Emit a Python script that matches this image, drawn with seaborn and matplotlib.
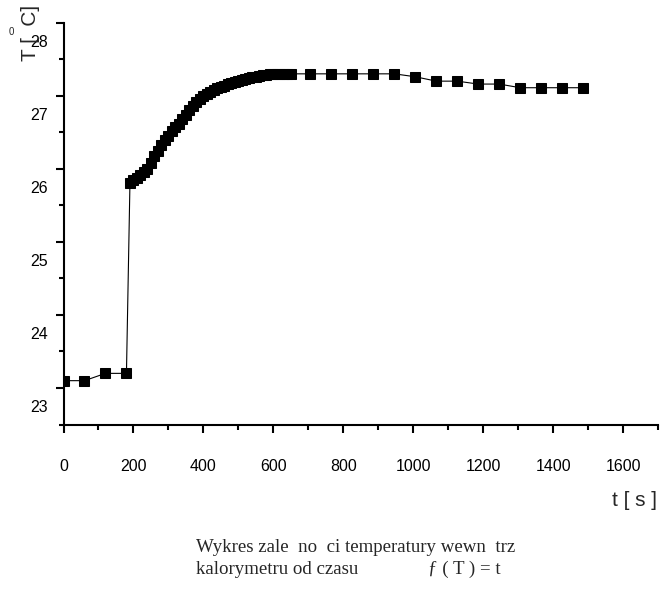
import numpy as np
import pandas as pd
import matplotlib
matplotlib.use("Agg")
import matplotlib.pyplot as plt
import matplotlib.transforms as mtransforms
from matplotlib.ticker import MultipleLocator
import seaborn as sns

# ---- data ----
t_start = [0, 60, 120, 180]
T_start = [23.10, 23.10, 23.20, 23.20]

t_dense = [190, 200, 210, 220, 230, 240, 250, 260, 270, 280, 290, 300, 310, 320,
           330, 340, 350, 360, 370, 380, 390, 400, 410, 420, 430, 440, 450, 460,
           470, 480, 490, 500, 510, 520, 530, 540, 550, 560, 570, 580, 590, 600,
           610, 620, 630, 640, 650]
T_dense = [25.80, 25.85, 25.88, 25.91, 25.95, 26.00, 26.08, 26.17, 26.25, 26.32,
           26.39, 26.45, 26.52, 26.57, 26.62, 26.68, 26.74, 26.80, 26.86, 26.91,
           26.95, 26.99, 27.02, 27.05, 27.08, 27.10, 27.12, 27.14, 27.16, 27.17,
           27.19, 27.20, 27.22, 27.23, 27.24, 27.25, 27.26, 27.27, 27.28, 27.29,
           27.30, 27.30, 27.30, 27.30, 27.30, 27.30, 27.30]

t_late = [706, 766, 826, 886, 946, 1006, 1066, 1126, 1186, 1246, 1306, 1366, 1426, 1486]
T_late = [27.30, 27.30, 27.30, 27.30, 27.30, 27.26, 27.20, 27.20, 27.16, 27.16,
          27.11, 27.11, 27.11, 27.11]

x_ticks = [0, 200, 400, 600, 800, 1000, 1200, 1400, 1600]
y_ticks = [23, 24, 25, 26, 27, 28]

x_label = "t [ s ]"
y_label = "T [  C]"
caption1 = "Wykres zale  no  ci temperatury wewn  trz"
caption2 = "kalorymetru od czasu"
caption3 = "\u0192 ( T ) = t"

df = pd.DataFrame({"t": t_start + t_dense + t_late,
                   "T": T_start + T_dense + T_late})

sns.set_style("white")
plt.rcParams["font.family"] = ["Liberation Sans", "DejaVu Sans"]

fig = plt.figure(figsize=(6.6, 5.9), dpi=100)
ax = fig.add_axes([63.5 / 660, 1 - 424.5 / 590, (658 - 63.5) / 660, (424.5 - 22.7) / 590])

sns.lineplot(data=df, x="t", y="T", ax=ax, color="black", linewidth=0.8,
             marker="s", markersize=7.6, markeredgecolor="black",
             markerfacecolor="black", sort=False, estimator=None)

ax.set_xlim(0, 1700)
ax.set_ylim(22.5, 28)
ax.set_xticks(x_ticks)
ax.set_xticklabels([str(v) for v in x_ticks])
ax.set_yticks(y_ticks)
ax.set_yticklabels([str(v) for v in y_ticks])
ax.xaxis.set_minor_locator(MultipleLocator(100))
ax.yaxis.set_minor_locator(MultipleLocator(0.5))

for s in ["top", "right"]:
    ax.spines[s].set_visible(False)
for s in ["left", "bottom"]:
    ax.spines[s].set_linewidth(1.5)
    ax.spines[s].set_color("black")

ax.tick_params(axis="both", which="major", direction="out", length=6, width=1.5,
               color="black", labelsize=11.5, labelcolor="black")
ax.tick_params(axis="both", which="minor", direction="out", length=3.5, width=1.5,
               color="black")
ax.tick_params(axis="x", which="major", pad=19)
ax.tick_params(axis="y", which="major", pad=5)
ax.tick_params(left=True, bottom=True, which="both")

# y tick labels sit below their ticks in the reference
off = mtransforms.ScaledTranslation(0, -0.18, fig.dpi_scale_trans)
for lab in ax.get_yticklabels():
    lab.set_transform(lab.get_transform() + off)

ax.set_xlabel("")
ax.set_ylabel("")

fig.text(657 / 660, 1 - 500 / 590, x_label, ha="right", va="center", fontsize=15)
fig.text(30 / 660, 1 - 33 / 590, y_label, ha="center", va="center", fontsize=15,
         rotation=90)
fig.text(11 / 660, 1 - 32 / 590, "0", ha="center", va="center", fontsize=7)

serif = ["Liberation Serif", "DejaVu Serif"]
fig.text(196 / 660, 1 - 547 / 590, caption1, ha="left", va="center", fontsize=13.6,
         family=serif)
fig.text(196 / 660, 1 - 569 / 590, caption2, ha="left", va="center", fontsize=13.6,
         family=serif)
fig.text(428 / 660, 1 - 569 / 590, caption3, ha="left", va="center", fontsize=13.6,
         family=serif)

fig.savefig("out.png", dpi=100)
